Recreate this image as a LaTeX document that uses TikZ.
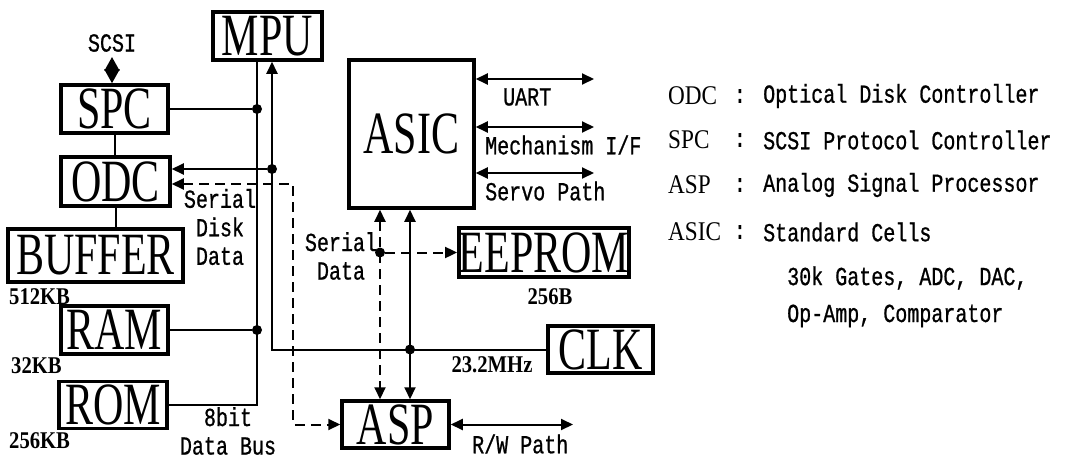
\documentclass[tikz,border=0pt]{standalone}
\usepackage{fontspec}
\usepackage{tikz}
\usetikzlibrary{arrows.meta, positioning, calc}
\newfontfamily\boxfont[FakeStretch=0.7]{Liberation Serif}
\newfontfamily\lblfont[FakeStretch=0.86]{Liberation Serif}
\newfontfamily\monofont[FakeStretch=0.77, FakeBold=0.8]{Liberation Mono}
\tikzset{
  unit/.style={rectangle, draw, line width=3.5pt, inner sep=0pt,
    font=\boxfont\fontsize{60}{60}\selectfont},
  txt/.style={font=\monofont\fontsize{26}{28.5}\selectfont, inner sep=0pt, align=center},
  memsize/.style={font=\lblfont\bfseries\fontsize{24}{24}\selectfont, inner sep=0pt},
  abbr/.style={font=\lblfont\fontsize{27}{27}\selectfont, inner sep=0pt, anchor=west},
  wire/.style={line width=2pt},
  sig/.style={line width=2pt, dash pattern=on 10pt off 6pt},
  tip/.style={-{Triangle[length=12pt,width=11pt]}},
  twotip/.style={{Triangle[length=12pt,width=11pt]}-{Triangle[length=12pt,width=11pt]}},
  dot/.style={circle, fill, inner sep=0pt, minimum size=10pt}
}
\begin{document}
\begin{tikzpicture}[x=1pt, y=-1pt]
  \useasboundingbox (0,0) rectangle (1065,460);

  % MPU side
  \node[unit, minimum width=109pt, minimum height=48pt] (mpu) at (267.5,36) {MPU};
  \node[unit, minimum width=107pt, minimum height=48pt] (spc) at (114.5,109) {SPC};
  \node[unit, minimum width=109pt, minimum height=49pt] (odc) at (115.5,181.5) {ODC};
  \node[unit, minimum width=175pt, minimum height=53pt] (buffer) at (95.5,255.5) {BUFFER};
  \node[unit, minimum width=107pt, minimum height=48pt] (ram) at (114.5,330) {RAM};
  \node[unit, minimum width=108pt, minimum height=47pt] (rom) at (113,405) {ROM};

  % ASIC side
  \node[unit, minimum width=125pt, minimum height=148pt] (asic) at (411.5,134) {ASIC};
  \node[unit, minimum width=162pt, minimum height=49pt] (eeprom) at (544,252.5) {EEPROM};
  \node[unit, minimum width=105pt, minimum height=47pt] (clk) at (600.5,349.5) {CLK};
  \node[unit, minimum width=107pt, minimum height=47pt] (asp) at (395.5,424.5) {ASP};

  % SCSI
  \node[txt] (scsi) at (112,43) {SCSI};
  \coordinate (scsiend) at (112,57);
  \draw[wire, {Triangle[length=14pt,width=15pt]}-{Triangle[length=14pt,width=15pt]}] (scsiend) -- (scsiend |- spc.north);
  \draw[wire] (spc.south) -- (spc.south |- odc.north);
  \draw[wire] (odc.south) -- (odc.south |- buffer.north);

  % data bus
  \coordinate (dbus) at (257,0);
  \draw[wire] (rom.east) -| (dbus |- mpu.south);
  \node[dot] (dspc) at (dbus |- spc.east) {};
  \draw[wire] (spc.east) -- (dspc);
  \node[dot] (dram) at (dbus |- ram.east) {};
  \draw[wire] (ram.east) -- (dram);

  % clock / control line
  \coordinate (cbus) at (272,0);
  \draw[wire, tip] (clk.west) -- (clk.west -| cbus) -- (cbus |- mpu.south);
  \node[dot] (dodc) at (272,169) {};
  \draw[wire, tip] (dodc) -- (dodc -| odc.east);

  % ASIC <-> ASP
  \coordinate (ax) at (410,0);
  \draw[wire, twotip] (ax |- asic.south) -- (ax |- asp.north);
  \node[dot] (dclk) at (ax |- clk.west) {};

  % serial data
  \coordinate (sx) at (380,0);
  \draw[sig, twotip] (sx |- asic.south) -- (sx |- asp.north);
  \node[dot] (dser) at (sx |- eeprom.west) {};
  \draw[sig, tip] (dser) -- (eeprom.west);

  % serial disk data
  \coordinate (sd) at (293,184);
  \draw[sig, twotip] (sd -| odc.east) -- (sd) -- (sd |- asp.west) -- (asp.west);

  % ASIC outputs
  \coordinate (uart) at (594,79);
  \coordinate (mech) at (594,127);
  \coordinate (servo) at (594,173);
  \foreach \n in {uart, mech, servo}
    \draw[wire, twotip] (\n -| asic.east) -- (\n);
  \node[txt, anchor=west] (luart) at (503,97) {UART};
  \node[txt, anchor=west] (lmech) at (485,145) {Mechanism I/F};
  \node[txt, anchor=west] (lservo) at (485,191) {Servo Path};

  % R/W path
  \coordinate (rw) at (573,0);
  \draw[wire, twotip] (asp.east) -- (rw |- asp.east);
  \node[txt, anchor=west] (lrw) at (472,444) {R/W Path};

  % labels
  \node[txt] (lsdd) at (220,227) {Serial\\Disk\\Data};
  \node[txt] (lsd) at (341,256) {Serial\\Data};
  \node[txt] (lbus) at (228,431) {8bit\\Data Bus};
  \node[memsize, anchor=west] (sbuf) at (9,297) {512KB};
  \node[memsize, anchor=west] (sram) at (11,366) {32KB};
  \node[memsize, anchor=west] (srom) at (9,441) {256KB};
  \node[memsize] (seep) at (550,297) {256B};
  \node[memsize] (sclk) at (492,365) {23.2MHz};

  % legend
  \foreach \a/\d/\y in {ODC/Optical Disk Controller/96, SPC/SCSI Protocol Controller/140,
      ASP/Analog Signal Processor/185, ASIC/Standard Cells/232}{
    \node[abbr] (key\a) at (668,\y) {\a};
    \node[txt] (col\a) at (740,\y) {:};
    \node[txt, anchor=west] (desc\a) at (763,\y) {\d};
  }
  \node[txt, anchor=west] (desc1) at (787,278) {30k Gates, ADC, DAC,};
  \node[txt, anchor=west] (desc2) at (787,316) {Op-Amp, Comparator};
\end{tikzpicture}
\end{document}
